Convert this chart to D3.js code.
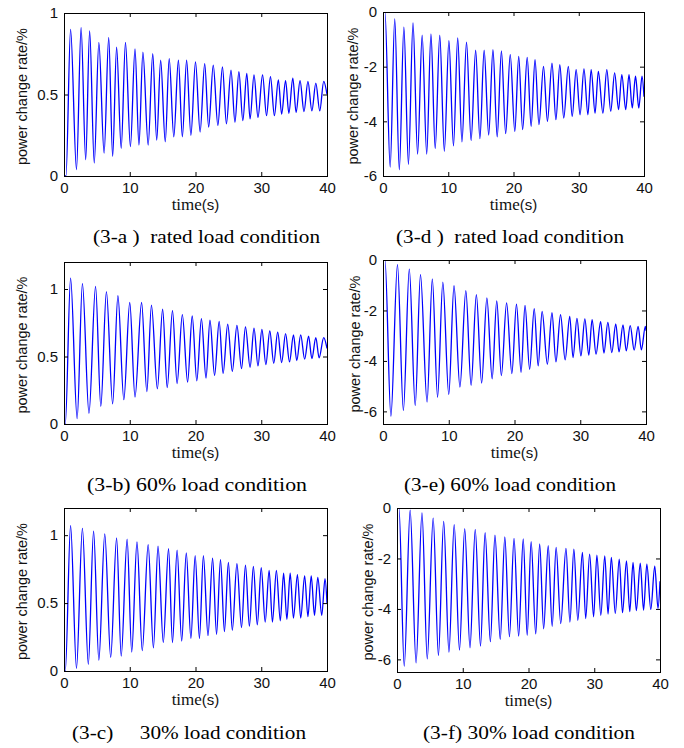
<!DOCTYPE html>
<html lang="en">
<head>
  <meta charset="UTF-8" />
  <title>power change rate</title>
  <script src="https://d3js.org/d3.v7.min.js"></script>
  <style>
    body { margin: 0; background: #fff; }
    text { white-space: pre; }
  </style>
</head>
<body>
  <svg id="chart" width="684" height="748"></svg>

  <script>
    // extrema: [time (s), power change rate (%)]
    const ratedLoadA = [[0,0],[0.3,0],[1.0,0.90],[1.9,0.04],[2.6,0.91],[3.3,0.10],[3.9,0.89],[4.6,0.08],[5.3,0.82],[6.1,0.14],[6.8,0.85],[7.4,0.12],[8.0,0.79],[8.7,0.17],[9.35,0.82],[10.1,0.18],[10.8,0.78],[11.4,0.19],[12.0,0.76],[12.8,0.19],[13.5,0.75],[14.1,0.22],[14.7,0.71],[15.4,0.21],[16.0,0.72],[16.7,0.24],[17.4,0.71],[18.0,0.24],[18.65,0.71],[19.3,0.25],[20.0,0.70],[20.7,0.27],[21.4,0.69],[22.0,0.30],[22.7,0.68],[23.4,0.31],[24.1,0.67],[24.7,0.32],[25.4,0.65],[26.0,0.33],[26.6,0.64],[27.2,0.34],[27.8,0.63],[28.3,0.35],[28.9,0.62],[29.5,0.36],[30.2,0.62],[30.8,0.37],[31.4,0.61],[32.0,0.37],[32.6,0.59],[33.1,0.38],[33.7,0.585],[34.2,0.385],[34.8,0.60],[35.3,0.39],[35.9,0.585],[36.5,0.395],[37.1,0.58],[37.7,0.40],[38.3,0.57],[38.9,0.40],[39.5,0.58],[40,0.50]];
    const load60B = [[0,0],[0.2,0],[1.0,1.08],[2.0,0.04],[2.8,1.04],[3.8,0.08],[4.8,1.02],[5.6,0.13],[6.45,0.98],[7.4,0.15],[8.2,0.95],[9.1,0.18],[10.0,0.90],[10.8,0.20],[11.8,0.90],[12.6,0.24],[13.3,0.88],[14.2,0.26],[15.0,0.85],[15.7,0.27],[16.5,0.84],[17.2,0.30],[18.0,0.81],[18.8,0.31],[19.5,0.80],[20.2,0.32],[20.9,0.78],[21.6,0.34],[22.2,0.77],[22.9,0.36],[23.6,0.76],[24.2,0.375],[24.9,0.74],[25.6,0.39],[26.3,0.73],[27.0,0.41],[27.6,0.72],[28.3,0.42],[28.9,0.71],[29.5,0.43],[30.1,0.70],[30.7,0.44],[31.3,0.69],[31.9,0.45],[32.5,0.68],[33.1,0.455],[33.7,0.67],[34.3,0.46],[34.9,0.66],[35.4,0.47],[36.0,0.66],[36.6,0.48],[37.2,0.65],[37.7,0.485],[38.3,0.64],[38.8,0.49],[39.5,0.64],[40,0.56]];
    const load30C = [[0,0],[0.2,0],[1.0,1.07],[1.9,0.02],[2.8,1.05],[3.7,0.05],[4.5,1.03],[5.3,0.08],[6.2,1.01],[7.1,0.10],[8.0,0.98],[8.7,0.11],[9.6,0.97],[10.3,0.14],[11.1,0.95],[11.9,0.15],[12.8,0.93],[13.6,0.17],[14.3,0.92],[15.1,0.21],[15.9,0.90],[16.5,0.21],[17.2,0.89],[17.9,0.22],[18.6,0.87],[19.3,0.24],[19.95,0.85],[20.6,0.24],[21.2,0.85],[21.9,0.26],[22.6,0.83],[23.2,0.27],[23.8,0.82],[24.4,0.29],[25.0,0.80],[25.6,0.30],[26.3,0.79],[27.0,0.32],[27.6,0.78],[28.2,0.33],[28.8,0.77],[29.4,0.34],[30.0,0.76],[30.6,0.36],[31.2,0.74],[31.7,0.36],[32.3,0.74],[32.9,0.37],[33.4,0.72],[33.9,0.38],[34.4,0.72],[34.9,0.39],[35.5,0.71],[36.0,0.39],[36.6,0.70],[37.1,0.40],[37.6,0.70],[38.1,0.41],[38.6,0.69],[39.2,0.41],[39.7,0.68],[40,0.50]];
    const ratedLoadD = [[0,0],[0.3,0],[1.1,-5.67],[1.8,-0.25],[2.5,-5.77],[3.2,-0.55],[3.9,-5.57],[4.6,-0.4],[5.3,-5.2],[6.0,-0.85],[6.7,-5.2],[7.35,-0.8],[8.0,-5.0],[8.7,-0.85],[9.4,-5.1],[10.1,-1.05],[10.8,-4.9],[11.45,-0.95],[12.1,-4.75],[12.8,-1.1],[13.5,-4.7],[14.2,-1.4],[14.85,-4.63],[15.5,-1.4],[16.2,-4.5],[16.85,-1.38],[17.5,-4.57],[18.15,-1.42],[18.8,-4.45],[19.5,-1.56],[20.2,-4.37],[20.8,-1.62],[21.4,-4.3],[22.1,-1.66],[22.7,-4.18],[23.3,-1.74],[23.9,-4.12],[24.6,-1.99],[25.2,-4.0],[25.9,-1.87],[26.5,-3.94],[27.1,-1.93],[27.7,-3.88],[28.4,-1.99],[29.0,-3.82],[29.6,-2.11],[30.2,-3.76],[30.8,-2.08],[31.4,-3.76],[31.9,-2.11],[32.5,-3.7],[33.0,-2.17],[33.7,-3.7],[34.3,-2.11],[34.9,-3.63],[35.5,-2.23],[36.1,-3.57],[36.6,-2.29],[37.2,-3.57],[37.7,-2.29],[38.2,-3.51],[38.7,-2.35],[39.2,-3.51],[39.7,-2.35],[40,-3.1]];
    const load60E = [[0,0],[0.3,0],[1.2,-6.19],[2.2,-0.18],[3.1,-5.96],[4.0,-0.36],[4.9,-5.77],[5.7,-0.58],[6.7,-5.63],[7.5,-0.75],[8.3,-5.44],[9.1,-0.88],[10.0,-5.33],[10.8,-1.02],[11.7,-5.04],[12.6,-1.21],[13.4,-4.97],[14.2,-1.37],[15.0,-4.88],[15.8,-1.5],[16.6,-4.71],[17.3,-1.62],[18.0,-4.58],[18.8,-1.7],[19.6,-4.5],[20.3,-1.75],[21.0,-4.45],[21.6,-1.8],[22.3,-4.33],[23.0,-1.93],[23.6,-4.2],[24.2,-2.04],[25.0,-4.13],[25.7,-2.09],[26.3,-4.04],[27.0,-2.17],[27.7,-3.96],[28.4,-2.24],[28.9,-3.87],[29.5,-2.31],[30.1,-3.8],[30.7,-2.33],[31.3,-3.77],[31.8,-2.36],[32.4,-3.73],[33.1,-2.44],[33.6,-3.69],[34.2,-2.47],[34.8,-3.67],[35.4,-2.53],[35.9,-3.64],[36.5,-2.57],[37.0,-3.6],[37.6,-2.6],[38.2,-3.57],[38.8,-2.63],[39.3,-3.56],[39.9,-2.63],[40,-2.8]];
    const load30F = [[0,0],[0.3,0],[1.1,-6.27],[2.0,-0.09],[2.9,-6.14],[3.8,-0.19],[4.6,-5.98],[5.5,-0.4],[6.3,-5.84],[7.1,-0.53],[7.9,-5.71],[8.7,-0.66],[9.5,-5.63],[10.3,-0.82],[11.1,-5.54],[11.9,-0.85],[12.7,-5.47],[13.4,-0.98],[14.2,-5.3],[14.9,-1.08],[15.7,-5.21],[16.4,-1.15],[17.1,-5.1],[17.8,-1.2],[18.5,-5.08],[19.2,-1.22],[19.8,-5.05],[20.4,-1.33],[21.1,-4.99],[21.7,-1.42],[22.3,-4.79],[23.0,-1.49],[23.6,-4.69],[24.2,-1.56],[24.9,-4.58],[25.7,-1.6],[26.3,-4.52],[26.9,-1.63],[27.5,-4.45],[28.2,-1.76],[28.7,-4.38],[29.3,-1.83],[29.9,-4.31],[30.4,-1.87],[31.0,-4.25],[31.6,-1.9],[32.1,-4.21],[32.6,-1.96],[33.2,-4.18],[33.8,-2.03],[34.3,-4.15],[34.9,-2.1],[35.4,-4.11],[35.9,-2.16],[36.4,-4.07],[37.0,-2.19],[37.5,-4.05],[38.0,-2.23],[38.6,-4.02],[39.2,-2.3],[39.7,-3.98],[40,-2.9]];

    const timeTicks = [0, 10, 20, 30, 40];
    const positiveTicks = [0, 0.5, 1];
    const negativeTicks = [0, -2, -4, -6];
    const captions = [
      "(3-a )  rated load condition",
      "(3-b) 60% load condition",
      "(3-c)     30% load condition",
      "(3-d )  rated load condition",
      "(3-e) 60% load condition",
      "(3-f) 30% load condition"
    ];

    const svg = d3.select("#chart");

    function drawPanel(p) {
      const x = d3.scaleLinear().domain([0, 40]).range([p.left, p.right]);
      const y = d3.scaleLinear().domain(p.yDomain).range([p.bottom, p.top]);
      const g = svg.append("g");

      const clipId = "clip" + p.id;
      g.append("clipPath").attr("id", clipId)
        .append("rect")
        .attr("x", p.left).attr("y", p.top)
        .attr("width", p.right - p.left).attr("height", p.bottom - p.top);

      const line = d3.line()
        .x(d => x(d[0]))
        .y(d => y(d[1]))
        .curve(d3.curveMonotoneX);

      g.append("path")
        .datum(p.data)
        .attr("clip-path", `url(#${clipId})`)
        .attr("fill", "none")
        .attr("stroke", "#0000ff")
        .attr("stroke-width", 1.3)
        .attr("d", line);

      const fmt = d => String(d);
      const axes = [
        [d3.axisBottom(x).tickValues(timeTicks).tickFormat(fmt).tickPadding(6), `translate(0,${p.bottom})`],
        [d3.axisTop(x).tickValues(timeTicks).tickFormat(""), `translate(0,${p.top})`],
        [d3.axisLeft(y).tickValues(p.yTicks).tickFormat(fmt).tickPadding(6), `translate(${p.left},0)`],
        [d3.axisRight(y).tickValues(p.yTicks).tickFormat(""), `translate(${p.right},0)`]
      ];
      axes.forEach(([ax, tr]) => {
        const a = g.append("g")
          .attr("transform", tr)
          .call(ax.tickSize(-4).tickSizeOuter(0));
        a.select(".domain").remove();
        a.selectAll("line").attr("stroke", "#000");
        a.selectAll("text")
          .attr("fill", "#111")
          .style("font-family", "'Liberation Sans', Arial, sans-serif")
          .style("font-size", "15px");
      });

      g.append("rect")
        .attr("x", p.left + 0.5).attr("y", p.top + 0.5)
        .attr("width", p.right - p.left).attr("height", p.bottom - p.top)
        .attr("fill", "none")
        .attr("stroke", "#000")
        .attr("stroke-width", 1);

      const xl = g.append("text")
        .attr("x", (p.left + p.right) / 2)
        .attr("y", p.bottom + 34)
        .attr("text-anchor", "middle")
        .attr("fill", "#111");
      xl.append("tspan").text("time")
        .style("font-family", "'Liberation Serif', 'Times New Roman', serif")
        .style("font-size", "17px");
      xl.append("tspan").text("(s)")
        .style("font-family", "'Liberation Sans', Arial, sans-serif")
        .style("font-size", "15px");

      g.append("text")
        .attr("transform", `translate(${p.labelX},${(p.top + p.bottom) / 2 + 2}) rotate(-90)`)
        .attr("text-anchor", "middle")
        .attr("dy", "0.35em")
        .attr("fill", "#111")
        .style("font-family", "'Liberation Sans', Arial, sans-serif")
        .style("font-size", "14.5px")
        .text("power change rate/%");

      g.append("text")
        .attr("x", p.capX)
        .attr("y", p.capY)
        .attr("fill", "#000")
        .attr("textLength", p.capW)
        .attr("lengthAdjust", "spacingAndGlyphs")
        .style("font-family", "'Liberation Serif', 'Times New Roman', serif")
        .style("font-size", "19px")
        .text(p.caption);
    }

    const layout = [
      { id: "a", data: ratedLoadA, yDomain: [0, 1],    yTicks: positiveTicks, left: 64,  right: 327, top: 13,  bottom: 176, labelX: 22,  capX: 93,  capY: 243, capW: 227, caption: captions[0] },
      { id: "b", data: load60B,    yDomain: [0, 1.2],  yTicks: positiveTicks, left: 64,  right: 327, top: 262, bottom: 424, labelX: 22,  capX: 87,  capY: 491, capW: 220, caption: captions[1] },
      { id: "c", data: load30C,    yDomain: [0, 1.2],  yTicks: positiveTicks, left: 64,  right: 327, top: 508, bottom: 671, labelX: 22,  capX: 72,  capY: 739, capW: 234, caption: captions[2] },
      { id: "d", data: ratedLoadD, yDomain: [-6, 0],   yTicks: negativeTicks, left: 383, right: 644, top: 12,  bottom: 176, labelX: 353, capX: 396, capY: 243, capW: 228, caption: captions[3] },
      { id: "e", data: load60E,    yDomain: [-6.5, 0], yTicks: negativeTicks, left: 383, right: 646, top: 260, bottom: 424, labelX: 355, capX: 404, capY: 491, capW: 212, caption: captions[4] },
      { id: "f", data: load30F,    yDomain: [-6.5, 0], yTicks: negativeTicks, left: 397, right: 660, top: 508, bottom: 672, labelX: 368, capX: 423, capY: 739, capW: 212, caption: captions[5] }
    ];

    layout.forEach(drawPanel);
  </script>
</body>
</html>
